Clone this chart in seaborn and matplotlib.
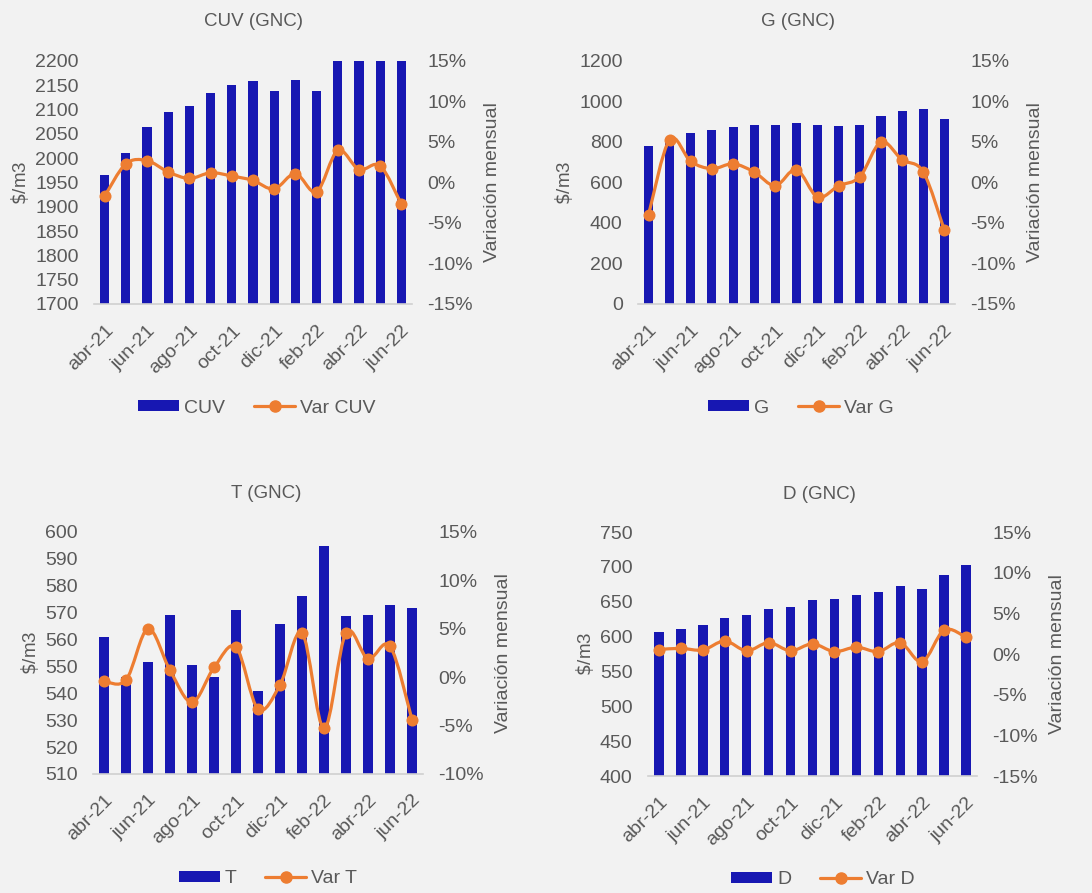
import numpy as np
import matplotlib
matplotlib.use("Agg")
import matplotlib.pyplot as plt
import seaborn as sns
from matplotlib.path import Path
from matplotlib.patches import PathPatch, Patch
from matplotlib.lines import Line2D
from matplotlib.ticker import PercentFormatter, MultipleLocator, FixedLocator

# datos
months = ["abr-21", "may-21", "jun-21", "jul-21", "ago-21", "sep-21", "oct-21", "nov-21",
          "dic-21", "ene-22", "feb-22", "mar-22", "abr-22", "may-22", "jun-22"]

cuv = [1966, 2010, 2064, 2096, 2107, 2134, 2151, 2158, 2138, 2160, 2138, 2200, 2200, 2200, 2200]
var_cuv = [-1.7, 2.3, 2.7, 1.3, 0.5, 1.2, 0.8, 0.25, -0.8, 1.1, -1.15, 3.95, 1.6, 2.05, -2.7]

g = [778, 818, 842, 858, 875, 884, 884, 896, 884, 880, 884, 927, 955, 965, 912]
var_g = [-4.0, 5.3, 2.6, 1.7, 2.3, 1.3, -0.4, 1.6, -1.8, -0.4, 0.7, 5.0, 2.8, 1.3, -5.9]

t = [561, 546.2, 551.8, 569, 550.6, 546, 571, 540.8, 565.8, 576.2, 594.7, 568.6, 569, 573, 571.9]
var_t = [-0.4, -0.3, 5.0, 0.7, -2.6, 1.0, 3.1, -3.3, -0.8, 4.6, -5.3, 4.6, 1.9, 3.2, -4.4]

d = [606.8, 611.6, 616.4, 627.4, 630.3, 639.9, 642.8, 652.3, 653.8, 660, 663.3, 672.4, 668.1, 688.2, 702.1]
var_d = [0.55, 0.7, 0.5, 1.6, 0.4, 1.4, 0.4, 1.25, 0.3, 0.85, 0.3, 1.4, -0.95, 2.95, 2.05]

BAR = "#1717B2"
ORANGE = "#ED7D31"
GREY = "#595959"
BG = "#f2f2f2"

sns.set_theme(style="white")
plt.rcParams["font.family"] = ["Liberation Sans", "DejaVu Sans"]
plt.rcParams["axes.unicode_minus"] = False


def smooth_path(x, y):
    # curva suave tipo Excel (Catmull-Rom en Bezier)
    n = len(x)
    verts = [(x[0], y[0])]
    codes = [Path.MOVETO]
    for i in range(n - 1):
        x0, y0 = (x[i - 1], y[i - 1]) if i > 0 else (x[i], y[i])
        x3, y3 = (x[i + 2], y[i + 2]) if i + 2 < n else (x[i + 1], y[i + 1])
        c1 = (x[i] + (x[i + 1] - x0) / 6, y[i] + (y[i + 1] - y0) / 6)
        c2 = (x[i + 1] - (x3 - x[i]) / 6, y[i + 1] - (y3 - y[i]) / 6)
        verts += [c1, c2, (x[i + 1], y[i + 1])]
        codes += [Path.CURVE4] * 3
    return Path(verts, codes)


def panel(fig, rect, title, title_xy, values, var, name, ylim, ystep, plim, leg_xy):
    ax = fig.add_axes(rect)
    ax.patch.set_alpha(0)
    sns.barplot(x=months, y=values, color=BAR, saturation=1, width=0.43, ax=ax, linewidth=0)
    ax.set_xlim(-0.5, len(months) - 0.5)
    ax.set_ylim(*ylim)
    ax.yaxis.set_major_locator(MultipleLocator(ystep))
    ax.set_xlabel("")
    ax.set_ylabel("$\\$$/m3", fontsize=13.5, color=GREY, labelpad=3)
    ax.set_xticks(range(0, len(months), 2))
    ax.set_xticklabels(months[::2], rotation=45, ha="right", va="top", rotation_mode="anchor")
    ax.xaxis.set_minor_locator(FixedLocator(np.arange(-0.5, len(months) - 1, 2)))
    ax.tick_params(axis="x", which="major", length=0, pad=13, labelsize=14, labelcolor=GREY)
    ax.tick_params(axis="x", which="minor", length=5, width=1, color="#d0d0d0", direction="out")
    ax.tick_params(axis="y", length=0, labelsize=14, labelcolor=GREY, pad=11)
    for s in ["top", "left", "right"]:
        ax.spines[s].set_visible(False)
    ax.spines["bottom"].set_color("#d0d0d0")
    ax.spines["bottom"].set_linewidth(1.2)

    ax2 = ax.twinx()
    ax2.set_ylim(*plim)
    ax2.yaxis.set_major_locator(MultipleLocator(5))
    ax2.yaxis.set_major_formatter(PercentFormatter(100, decimals=0))
    ax2.tick_params(axis="y", length=0, labelsize=14, labelcolor=GREY, pad=11)
    ax2.set_ylabel("Variación mensual", fontsize=14, color=GREY, labelpad=8)
    for s in ax2.spines.values():
        s.set_visible(False)
    xpos = np.arange(len(months))
    ax2.add_patch(PathPatch(smooth_path(xpos, var), fill=False, edgecolor=ORANGE,
                            linewidth=2.3, capstyle="round", joinstyle="round", zorder=3))
    sns.scatterplot(x=xpos, y=var, ax=ax2, color=ORANGE, s=75, linewidth=0, zorder=4, legend=False)
    ax2.set_xlim(-0.5, len(months) - 0.5)

    fig.text(title_xy[0], title_xy[1], title, ha="center", va="center", fontsize=13.5, color=GREY)
    handles = [Patch(facecolor=BAR, edgecolor="none"),
               Line2D([], [], color=ORANGE, lw=2.3, marker="o", markersize=8)]
    fig.legend(handles, [name, "Var " + name], loc="center", bbox_to_anchor=leg_xy, ncol=2,
               frameon=False, fontsize=14, labelcolor=GREY, handlelength=2.1, handleheight=0.55,
               handletextpad=0.25, columnspacing=1.5)
    return ax, ax2


fig = plt.figure(figsize=(10.92, 8.93), dpi=100, facecolor=BG)

panel(fig, [0.0861, 0.6596, 0.2912, 0.2721], "CUV (GNC)", (0.2326, 0.9754),
      cuv, var_cuv, "CUV", (1700, 2200), 50, (-15, 15), (0.2353, 0.5431))
panel(fig, [0.5842, 0.6596, 0.2903, 0.2721], "G (GNC)", (0.7308, 0.9754),
      g, var_g, "G", (0, 1200), 200, (-15, 15), (0.7335, 0.5431))
panel(fig, [0.0852, 0.1333, 0.3022, 0.2710], "T (GNC)", (0.2436, 0.4479),
      t, var_t, "T", (510, 600), 10, (-10, 15), (0.2454, 0.0157))
panel(fig, [0.5934, 0.1310, 0.3013, 0.2732], "D (GNC)", (0.7500, 0.4468),
      d, var_d, "D", (400, 750), 50, (-15, 15), (0.7537, 0.0146))

fig.savefig("out.png", dpi=100, facecolor=BG)
